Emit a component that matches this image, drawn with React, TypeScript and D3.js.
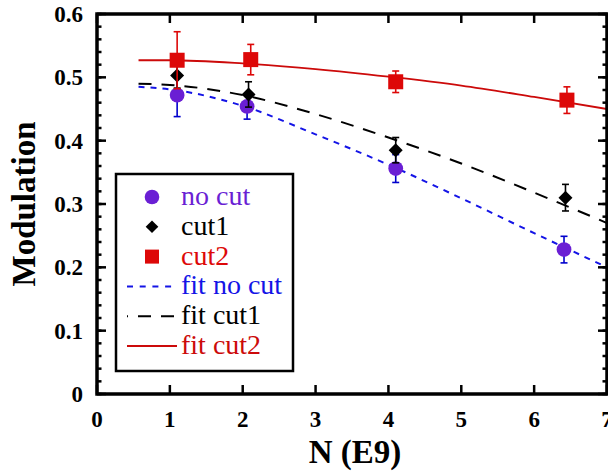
import React from "react";
import * as d3 from "d3";

const noCutX = [1.1, 2.06, 4.1, 6.41];
const noCutY = [0.472, 0.454, 0.356, 0.228];
const noCutErr = [0.034, 0.02, 0.022, 0.021];

const cut1X = [1.1, 2.08, 4.1, 6.43];
const cut1Y = [0.503, 0.473, 0.385, 0.31];
const cut1Err = [0.02, 0.02, 0.02, 0.021];

const cut2X = [1.1, 2.11, 4.1, 6.45];
const cut2Y = [0.527, 0.528, 0.493, 0.464];
const cut2Err = [0.045, 0.024, 0.017, 0.021];

const fitX = [0.57, 1, 2, 3, 4, 5, 6, 7];
const fitNoCut = [0.485, 0.481, 0.455, 0.41, 0.362, 0.309, 0.254, 0.2];
const fitCut1 = [0.49, 0.488, 0.472, 0.442, 0.405, 0.364, 0.318, 0.27];
const fitCut2 = [0.527, 0.527, 0.522, 0.513, 0.501, 0.487, 0.469, 0.45];

const xTicks = [0, 1, 2, 3, 4, 5, 6, 7];
const yTicks = [0, 0.1, 0.2, 0.3, 0.4, 0.5, 0.6];
const yMinor = d3.range(0, 0.6001, 0.02);

const legendLabels = ["no cut", "cut1", "cut2", "fit no cut", "fit cut1", "fit cut2"];

const PURPLE = "#6a1fd4";
const RED = "#dd0808";
const REDLINE = "#cc0a0a";
const BLUE = "#1414e6";
const BLUEBAR = "#0000cc";

export default function App() {
  const W = 608, H = 476;
  const L = 97, R = 607, T = 14, B = 394;
  const x = d3.scaleLinear().domain([0, 7]).range([L, R]);
  const y = d3.scaleLinear().domain([0, 0.6]).range([B, T]);
  const line = (ys: number[]) =>
    d3.line<number>().x((_, i) => x(fitX[i])).y((v) => y(v)).curve(d3.curveMonotoneX)(ys) || "";

  const serif = '"Liberation Serif", Tinos, "Times New Roman", Times, "Nimbus Roman", "DejaVu Serif", serif';

  const errBars = (xs: number[], ys: number[], es: number[], color: string) =>
    xs.map((xv, i) => {
      const cx = x(xv);
      const y1 = y(ys[i] + es[i]);
      const y2 = y(ys[i] - es[i]);
      return (
        <g key={i} stroke={color} strokeWidth={1.6}>
          <line x1={cx} x2={cx} y1={y1} y2={y2} />
          <line x1={cx - 3.5} x2={cx + 3.5} y1={y1} y2={y1} />
          <line x1={cx - 3.5} x2={cx + 3.5} y1={y2} y2={y2} />
        </g>
      );
    });

  const diamond = (cx: number, cy: number, r: number) =>
    `M${cx},${cy - r}L${cx + r},${cy}L${cx},${cy + r}L${cx - r},${cy}Z`;

  const legY = (i: number) => 197 + i * 29.8;
  const legSym = 152;
  const legTextX = 181;
  const legColors = [PURPLE, "#000", RED, BLUE, "#000", REDLINE];

  return (
    <svg width={W} height={H} style={{ position: "absolute", left: 0, top: 0 }}>
      <rect x={0} y={0} width={W} height={H} fill="#fff" />
      <defs>
        <clipPath id="plot">
          <rect x={L} y={T} width={R - L} height={B - T} />
        </clipPath>
      </defs>

      <g clipPath="url(#plot)" fill="none">
        <path d={line(fitCut2)} stroke={REDLINE} strokeWidth={1.8} />
        <path d={line(fitCut1)} stroke="#000" strokeWidth={2} strokeDasharray="13,10" />
        <path d={line(fitNoCut)} stroke={BLUE} strokeWidth={2} strokeDasharray="6,6" />
      </g>

      {errBars(noCutX, noCutY, noCutErr, BLUEBAR)}
      {noCutX.map((xv, i) => (
        <circle key={i} cx={x(xv)} cy={y(noCutY[i])} r={7.4} fill={PURPLE} />
      ))}
      {errBars(cut1X, cut1Y, cut1Err, "#000")}
      {cut1X.map((xv, i) => (
        <path key={i} d={diamond(x(xv), y(cut1Y[i]), 7)} fill="#000" />
      ))}
      {errBars(cut2X, cut2Y, cut2Err, RED)}
      {cut2X.map((xv, i) => (
        <rect key={i} x={x(xv) - 7.5} y={y(cut2Y[i]) - 7.5} width={15} height={15} fill={RED} />
      ))}

      <g stroke="#000" strokeWidth={2.5}>
        {yMinor.map((v, i) => (
          <g key={"m" + i}>
            <line x1={L} x2={L + 4.5} y1={y(v)} y2={y(v)} />
            <line x1={R - 4.5} x2={R} y1={y(v)} y2={y(v)} />
          </g>
        ))}
        {yTicks.map((v, i) => (
          <g key={"y" + i}>
            <line x1={L} x2={L + 9} y1={y(v)} y2={y(v)} />
            <line x1={R - 9} x2={R} y1={y(v)} y2={y(v)} />
          </g>
        ))}
        {xTicks.map((v, i) => (
          <g key={"x" + i}>
            <line x1={x(v)} x2={x(v)} y1={B} y2={B - 9} />
            <line x1={x(v)} x2={x(v)} y1={T} y2={T + 9} />
          </g>
        ))}
      </g>
      <rect x={L} y={T} width={R - L} height={B - T} fill="none" stroke="#000" strokeWidth={3.5} />

      <g fontFamily={serif} fontWeight="bold" fontSize={23} fill="#000">
        {yTicks.map((v, i) => (
          <text key={"yl" + i} x={83} y={y(v) + 8} textAnchor="end">
            {v === 0 ? "0" : d3.format(".1f")(v)}
          </text>
        ))}
        {xTicks.map((v, i) => (
          <text key={"xl" + i} x={x(v)} y={427} textAnchor="middle">
            {String(v)}
          </text>
        ))}
      </g>

      <text x={355} y={463} textAnchor="middle" fontFamily={serif} fontWeight="bold" fontSize={33}>
        N (E9)
      </text>
      <text
        transform={`translate(35,${(T + B) / 2}) rotate(-90)`}
        textAnchor="middle"
        fontFamily={serif}
        fontWeight="bold"
        fontSize={33}
      >
        Modulation
      </text>

      <rect x={116} y={174} width={177} height={197} fill="#fff" stroke="#000" strokeWidth={2.5} />
      <circle cx={legSym} cy={legY(0)} r={7.3} fill={PURPLE} />
      <path d={diamond(legSym, legY(1), 6.3)} fill="#000" />
      <rect x={legSym - 7} y={legY(2) - 7} width={14} height={14} fill={RED} />
      <line x1={127} x2={177} y1={legY(3)} y2={legY(3)} stroke={BLUE} strokeWidth={2} strokeDasharray="6,6.7" />
      <line x1={127} x2={177} y1={legY(4)} y2={legY(4)} stroke="#000" strokeWidth={2} strokeDasharray="13,10" strokeDashoffset={12} />
      <line x1={127} x2={177} y1={legY(5)} y2={legY(5)} stroke={REDLINE} strokeWidth={2} />
      <g fontFamily={serif} fontSize={28}>
        {legendLabels.map((t, i) => (
          <text key={t} x={legTextX} y={legY(i) + 8} fill={legColors[i]}>
            {t}
          </text>
        ))}
      </g>
    </svg>
  );
}
